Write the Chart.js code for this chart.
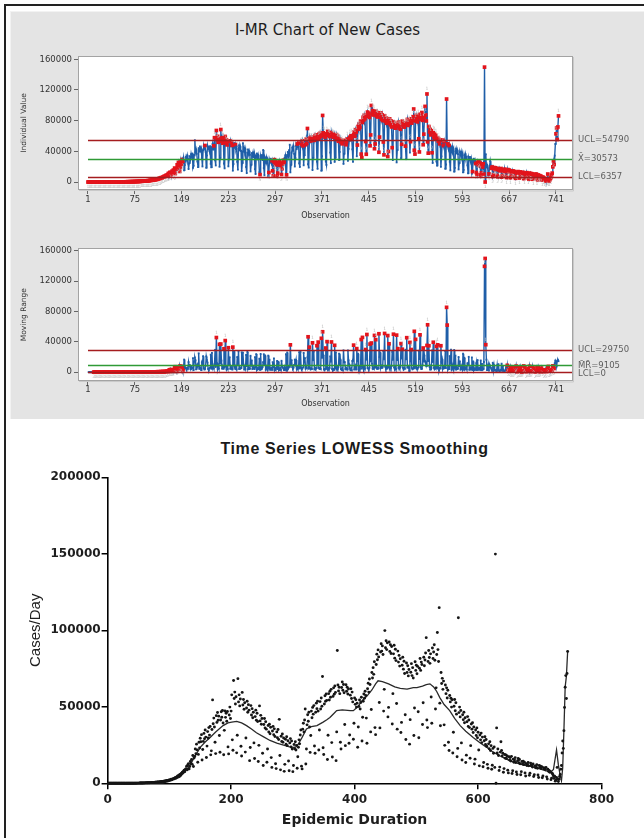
<!DOCTYPE html>
<html><head><meta charset="utf-8">
<script src="https://cdn.jsdelivr.net/npm/chart.js@4.4.1/dist/chart.umd.min.js"></script>
<style>
html,body{margin:0;padding:0;background:#fff;}
body{width:644px;height:838px;position:relative;overflow:hidden;font-family:"DejaVu Sans",sans-serif;}
#frameTop{position:absolute;left:4px;top:4px;width:640px;height:2px;background:#222;}
#frameLeft{position:absolute;left:4px;top:4px;width:2px;height:834px;background:#222;}
#panel{position:absolute;left:10px;top:11px;width:634px;height:408px;background:#e4e4e4;border-top:1px solid #f2f2f2;border-left:1px solid #f2f2f2;box-sizing:border-box;}
#t1{position:absolute;left:0;top:20px;width:655px;text-align:center;font:15px "DejaVu Sans";color:#1e1e1e;line-height:20px;}
#t2{position:absolute;left:0;top:438px;width:709px;text-align:center;font:bold 16px "Liberation Sans",Arial,sans-serif;letter-spacing:0.6px;color:#1a1a1a;line-height:22px;}
canvas{position:absolute;left:0;}
#cA{top:40px;} #cB{top:232px;} #cC{top:460px;}
</style></head>
<body>
<div id="frameTop"></div><div id="frameLeft"></div>
<div id="panel"></div>
<div id="t1">I-MR Chart of New Cases</div>
<div id="t2">Time Series LOWESS Smoothing</div>
<canvas id="cA" width="644" height="190"></canvas>
<canvas id="cB" width="644" height="189"></canvas>
<canvas id="cC" width="644" height="378"></canvas>
<script>
// ---- data: daily new cases (observation 1..745) ----
const cases = [
0,0,0,0,1,0,0,
0,2,0,0,3,0,1,
0,0,4,2,0,5,3,
6,2,8,10,4,12,9,
14,20,11,25,18,30,22,
35,40,28,52,45,60,48,
70,85,66,95,110,90,120,
140,125,160,180,150,210,190,
230,260,240,290,270,320,300,
350,380,340,420,400,460,430,
500,540,480,580,620,560,650,
700,760,720,820,880,800,900,
980,1050,1000,1150,1250,1100,1300,
1400,1550,1450,1650,1800,1600,1900,
2050,2250,2100,2400,2600,2300,2750,
2900,3200,3000,3500,3800,3400,4100,
4400,4900,4500,5300,5800,5200,6200,
6600,7300,6800,7900,8600,7600,9000,
9600,11200,8900,12100,12800,9400,11000,
14200,13100,15600,12400,18200,11000,16500,
17500,22400,19300,25600,21800,13800,18900,
26800,23100,29400,27200,31800,15200,22100,
27400,32600,29100,34800,30200,16900,24300,
33800,29600,36400,31500,37200,18600,21200,
35200,54500,38900,42600,36800,26800,19400,
44200,39800,46300,41200,43900,31200,20300,
41400,46800,43200,47600,39400,18700,34600,
47300,43100,45800,40600,46900,23800,19200,
44600,49800,42400,47200,57800,28400,21600,
67200,55400,59600,51800,56600,19900,31400,
68400,53200,57800,50600,55100,24200,17800,
59400,51200,54800,48400,52600,20400,29600,
49200,53600,46400,51400,47800,14800,23400,
50800,44600,48800,42800,46400,26400,16200,
43600,47800,41200,45800,40400,14200,24800,
50600,40800,44400,38600,42400,19600,11600,
38400,42400,36200,40200,35400,13800,22400,
37800,33600,38600,32400,36600,16800,10400,
34200,37200,31800,35600,30600,12800,9600,
33600,29800,35200,28600,41800,18200,8800,
30800,27400,32200,26800,29600,7800,12400,
28800,25600,30400,24600,27800,14600,8200,
26400,29200,23800,27600,22400,7600,11600,
25400,22600,27200,21800,24800,9800,17400,
23600,28400,25800,31600,34800,11200,9400,
35400,39200,33600,41400,48600,12600,22400,
38200,44800,40600,46400,36800,20200,31200,
47200,42800,49600,45200,50800,24400,19600,
46400,52400,48800,53600,47200,21800,34800,
53400,48600,55800,50400,69800,23200,18800,
51800,57200,53600,58400,54200,15600,31400,
58600,54400,60200,56200,61400,26600,17200,
56800,62400,58200,63600,59400,14800,33600,
86800,64200,60400,62800,58600,26800,22400,
62600,66200,60800,64600,59200,38400,24600,
64400,60200,62800,58400,61600,26200,31600,
57600,61800,55400,59600,53200,28800,39200,
55800,51600,54600,49800,52400,23600,36800,
50200,54400,48600,52800,56200,27600,43200,
53600,58400,55600,60200,57400,42600,26200,
61800,65400,59600,68200,64600,33600,48200,
72400,68800,75600,71200,79400,36400,31800,
77600,84400,80800,87200,82600,52800,36200,
85800,91200,86400,89800,84200,47200,61400,
99800,88600,93200,87400,91800,43400,49600,
92400,86200,90600,84800,89400,38800,58600,
84600,90200,81800,87600,80200,52200,35400,
86400,79200,83600,76600,81400,33200,39800,
77200,82400,74600,79800,71800,44800,28600,
78600,72400,76800,70200,74400,25600,41600,
72600,78200,70400,75600,68800,31200,49200,
79400,73800,77200,71600,76400,46800,29800,
75200,81600,73800,79200,77600,38400,52600,
82400,76800,80600,85200,95200,41400,36400,
79600,86800,82200,78400,84600,56400,39200,
88400,81600,85800,90600,80400,48600,62400,
84200,98600,87400,79600,114800,52400,37600,
72400,65200,68600,61400,66800,38200,24800,
64200,58600,62400,55800,60800,26800,21400,
57400,53200,55600,49800,54600,19800,33400,
50400,54800,47400,52600,45200,17400,22800,
108200,46200,49800,43400,47600,26400,15200,
44800,41600,46400,39600,42800,13600,18400,
40200,43600,37200,41400,36400,16400,24600,
38800,35400,39600,33200,36800,12600,15800,
34800,31200,36200,29800,33400,21800,11400,
31600,28400,32800,26600,30200,10800,13600,
27800,30400,25400,28600,24200,12400,9800,
25800,22600,27200,21400,24600,9200,11800,
22800,19600,23800,10400,149800,0,36200,
19800,22400,18200,8400,10600,20400,27200,
21400,17800,19600,7200,9600,18800,16400,
18600,16200,17800,8600,6800,17400,15200,
16800,14600,17600,6400,8200,15800,13800,
15200,16800,13600,7400,5800,14800,16200,
13400,15600,12800,5600,7600,14200,12600,
14400,12200,13800,6800,4800,12800,11600,
12200,13600,11400,5200,6600,13200,11800,
11800,10600,12600,4400,5600,11400,10200,
10800,12200,9800,5400,3800,11600,10400,
11200,9600,10800,3600,4800,10200,9400,
9800,8800,10400,4200,2800,9200,7800,
8400,7200,7800,2400,3400,6600,5800,
4800,3200,4600,1400,2200,3800,10400,
2800,1200,2600,4400,5800,9200,11600,
19800,27600,22800,34400,49600,62800,70400,
55400,71800,86200
];
// LOWESS smooth
const smoothDay = [0,80,90,100,110,117,125,133,140,150,158,166,175,187,195,201,209,217,225,233,241,252,263,274,285,293,301,305,309,315,322,330,339,349,355,360,366,371,380,393,398,405,412,420,428,434,438,445,455,465,474,485,495,501,510,516,522,528,533,538,545,554,562,571,580,592,603,614,624,635,650,668,685,700,710,717,722,727,730,733,735,737,739,741,743,745];
const smoothCases = [0,0,300,1200,2800,4000,7500,11500,16500,23500,27000,30000,33500,37700,39500,40000,40500,39500,37700,35500,33000,30500,28000,26300,25000,24000,23500,23800,25700,30000,35500,37000,37700,40000,41500,43000,45500,47500,48000,47500,47500,50000,54000,57000,61000,65000,67000,66500,65000,63000,62000,61500,62500,62500,63500,64500,65000,63000,60000,56000,51500,47500,42500,37700,34000,30000,26500,23500,20500,18000,15000,12600,11000,9400,8200,7000,9000,21800,12000,5000,1700,10000,35000,63000,70000,86000];

const obsTicks = [1,75,149,223,297,371,445,519,593,667,741];
const iTicks = [0,40000,80000,120000,160000];
const mrTicks = [0,40000,80000,120000,160000];
const durTicks = [0,200,400,600,800];
const cdTicks = [0,50000,100000,150000,200000];
const iLimitValues = [54790,30573,6357];        // UCL, X-bar, LCL
const iLimitLabels = ['UCL=54790','X\u0304=30573','LCL=6357'];
const mrLimitValues = [29750,9105,0];           // UCL, MR-bar, LCL
const mrLimitLabels = ['UCL=29750','M\u0304R\u0304=9105','LCL=0'];

// moving ranges from consecutive observations
const movingRange = cases.map((v,i)=> i===0 ? null : Math.abs(v - cases[i-1]));

// Minitab-style special cause tests
function runTests(vals, ucl, cl, lcl, tests){
  const sigma = (ucl - cl)/3;
  const f = vals.map(()=>0);
  let run = 0, side = 0;
  for (let i=0;i<vals.length;i++){
    const v = vals[i]; if (v==null) continue;
    if (tests.includes(1) && (v>ucl || v<lcl)) f[i]=1;
    const s = v>cl?1:(v<cl?-1:0);
    if (s!==0 && s===side) run++; else { run = s!==0?1:0; side = s; }
    if (!f[i] && tests.includes(2) && run>=9) f[i]=2;
    const beyond = (j,k,sd)=> vals[j]!=null && (sd>0 ? vals[j]>cl+k*sigma : vals[j]<cl-k*sigma);
    if (!f[i] && tests.includes(5) && i>=2){
      for (const sd of [1,-1]){ if(!beyond(i,2,sd)) continue; let c=0; for(let j=i-2;j<=i;j++) if(beyond(j,2,sd)) c++; if(c>=2){f[i]=5;break;} }
    }
  }
  return f;
}
const iFlags = runTests(cases, iLimitValues[0], iLimitValues[1], iLimitValues[2], [1,2,5]);
const mrFlags = runTests(movingRange, mrLimitValues[0], mrLimitValues[1], mrLimitValues[2], [1,2]);

const BLUE = '#1f5ea8', RED = '#e3141c';

const boxPlugin = {
  id:'box',
  beforeDraw(chart){ const {ctx, chartArea:a} = chart; ctx.save(); ctx.fillStyle='#fff'; ctx.fillRect(a.left,a.top,a.width,a.height); ctx.restore(); },
  afterDraw(chart){ const {ctx, chartArea:a} = chart; ctx.save();
    ctx.strokeStyle='#a3a3a3'; ctx.lineWidth=1; ctx.strokeRect(Math.round(a.left)+0.5, Math.round(a.top)+0.5, Math.round(a.width)-1, Math.round(a.height)-1);
    ctx.strokeStyle='#c9c9c9'; ctx.beginPath(); ctx.moveTo(Math.round(a.right)+0.5, a.top+1); ctx.lineTo(Math.round(a.right)+0.5, a.bottom+1); ctx.lineTo(a.left+1, Math.round(a.bottom)+0.5); ctx.stroke();
    ctx.restore(); }
};
function makeLimitPlugin(values, labels, colors, dys){
  return {
    id:'limits',
    afterDatasetsDraw(chart){
      const {ctx, chartArea:a, scales:{x,y}} = chart; ctx.save();
      const meta = chart.getDatasetMeta(0); const flags = chart.data.datasets[0].flags;
      ctx.font = '4.5px "DejaVu Sans"'; ctx.fillStyle='#bdbdbd'; ctx.textAlign='center'; ctx.textBaseline='middle';
      meta.data.forEach((pt,i)=>{ if(flags[i] && i%2===0){ const v = chart.data.datasets[0].data[i].y; const up = v >= values[1]; ctx.fillText(String(flags[i]), pt.x, pt.y + (up?-5:5)); } });
      values.forEach((v,k)=>{ const py = Math.round(y.getPixelForValue(v))+0.5; ctx.strokeStyle=colors[k]; ctx.lineWidth=1.6; ctx.beginPath(); ctx.moveTo(x.getPixelForValue(1), py); ctx.lineTo(a.right-1, py); ctx.stroke(); });
      ctx.restore();
    },
    afterDraw(chart){
      const {ctx, chartArea:a, scales:{y}} = chart; ctx.save();
      ctx.font = '8.5px "DejaVu Sans"'; ctx.fillStyle='#5e5e5e'; ctx.textAlign='left'; ctx.textBaseline='middle';
      labels.forEach((t,k)=> ctx.fillText(t, a.right+5, y.getPixelForValue(values[k]) + dys[k]));
      ctx.restore();
    }
  };
}
const small = {family:'"DejaVu Sans"', size:8.5};
function imrOptions(yMin, yMax, yTicks, yTitle, titlePadBottom, tickPad){
  return {
    responsive:false, animation:false, devicePixelRatio:1,
    layout:{padding:{left:0, right:71, top:0, bottom:0}},
    plugins:{legend:{display:false}, tooltip:{enabled:false}},
    scales:{
      x:{type:'linear', min:-14.8, max:767.9,
        afterBuildTicks:s=>{ s.ticks = obsTicks.map(v=>({value:v})); },
        afterFit:s=>{ s.height = 40; },
        ticks:{font:small, color:'#333', autoSkip:false, maxRotation:0, padding:tickPad, callback:v=>String(v)},
        grid:{drawOnChartArea:false, drawTicks:true, tickLength:4, color:'#666'},
        border:{display:false},
        title:{display:true, text:'Observation', font:{family:'"DejaVu Sans"', size:8}, color:'#333', padding:{top:0,bottom:titlePadBottom}}
      },
      y:{min:yMin, max:yMax,
        afterBuildTicks:s=>{ s.ticks = yTicks.map(v=>({value:v})); },
        afterFit:s=>{ s.width = 78; },
        ticks:{font:small, color:'#333', padding:2, callback:v=>String(v)},
        grid:{drawOnChartArea:false, drawTicks:true, tickLength:4, color:'#666'},
        border:{display:false},
        title:{display:true, text:yTitle, font:{family:'"DejaVu Sans"', size:7.5}, color:'#333', padding:{top:20,bottom:0}}
      }
    }
  };
}
function pointDataset(vals, flags, startIdx){
  const pts = []; const fl = [];
  vals.forEach((v,i)=>{ if(i>=startIdx && v!=null){ pts.push({x:i+1, y:v}); fl.push(flags[i]); } });
  return {data:pts, flags:fl, borderColor:BLUE, borderWidth:1.4, tension:0, clip:false,
    pointStyle:'rect', pointBorderWidth:0,
    pointRadius:c=> fl[c.dataIndex] ? 2.6 : 1.3,
    pointBackgroundColor:c=> fl[c.dataIndex] ? RED : BLUE};
}

// Chart A: Individuals
const optA = imrOptions(-10400, 164300, iTicks, 'Individual Value', 9.2, 1);
optA.layout.padding.top = 16;
new Chart(document.getElementById('cA'), {
  type:'line',
  data:{datasets:[pointDataset(cases, iFlags, 0)]},
  options:optA,
  plugins:[boxPlugin, makeLimitPlugin(iLimitValues, iLimitLabels, ['#a51c1f','#2f9a36','#a51c1f'], [0,0,0])]
});
// Chart B: Moving range
const optB = imrOptions(-11640, 163170, mrTicks, 'Moving Range', 12.2, 0);
optB.layout.padding.top = 16.3;
new Chart(document.getElementById('cB'), {
  type:'line',
  data:{datasets:[pointDataset(movingRange, mrFlags, 1)]},
  options:optB,
  plugins:[boxPlugin, makeLimitPlugin(mrLimitValues, mrLimitLabels, ['#a51c1f','#2f9a36','#a51c1f'], [0,1,2])]
});

// Chart C: LOWESS
const boldTick = {family:'"DejaVu Sans"', size:12, weight:'bold'};
new Chart(document.getElementById('cC'), {
  type:'scatter',
  data:{datasets:[
    {type:'scatter', data:cases.map((v,i)=>({x:i+1, y:v})), pointRadius:1.45, pointBackgroundColor:'#151515', pointBorderWidth:0, clip:false},
    {type:'line', data:smoothDay.map((d,i)=>({x:d, y:smoothCases[i]})), borderColor:'#2a2a2a', borderWidth:1.3, pointRadius:0, tension:0, clip:false}
  ]},
  options:{
    responsive:false, animation:false, devicePixelRatio:1,
    layout:{padding:{left:0, right:42.4, top:17.3, bottom:0}},
    plugins:{legend:{display:false}, tooltip:{enabled:false}},
    scales:{
      x:{type:'linear', min:0, max:800,
        afterBuildTicks:s=>{ s.ticks = durTicks.map(v=>({value:v})); },
        afterFit:s=>{ s.height = 54.7; },
        ticks:{font:boldTick, color:'#1e1e1e', padding:3.5, maxRotation:0, callback:v=>String(v)},
        grid:{drawOnChartArea:false, drawTicks:true, tickLength:6, color:'#000', lineWidth:1.5},
        border:{display:true, color:'#000', width:1.6},
        title:{display:true, text:'Epidemic Duration', font:{family:'"DejaVu Sans"', size:14, weight:'bold'}, color:'#1e1e1e', padding:{top:0,bottom:9.6}}
      },
      y:{min:0, max:200000,
        afterBuildTicks:s=>{ s.ticks = cdTicks.map(v=>({value:v})); },
        afterFit:s=>{ s.width = 107.6; },
        ticks:{font:boldTick, color:'#1e1e1e', padding:1, callback:v=>String(v)},
        grid:{drawOnChartArea:false, drawTicks:true, tickLength:6, color:'#000', lineWidth:1.5},
        border:{display:true, color:'#000', width:1.6},
        title:{display:true, text:'Cases/Day', font:{family:'"Liberation Sans"', size:15}, color:'#1e1e1e', padding:{top:27,bottom:0}}
      }
    }
  }
});
</script>
</body></html>
